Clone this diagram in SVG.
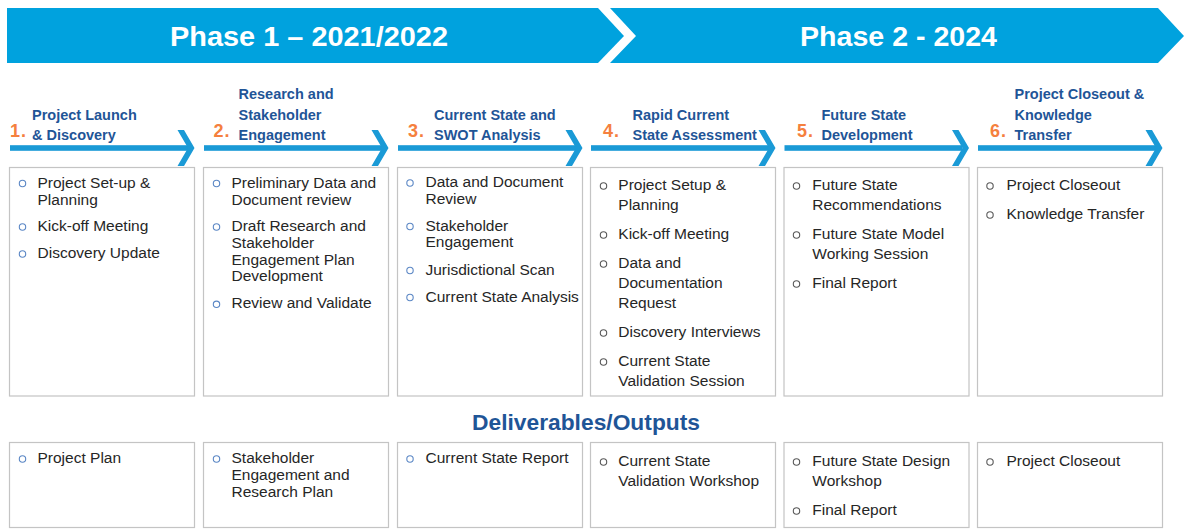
<svg xmlns="http://www.w3.org/2000/svg" xmlns:xlink="http://www.w3.org/1999/xlink" width="1184" height="529" viewBox="0 0 1184 529">
<style>
.banner{fill:#00a2de}
.ban-t{font-family:"Liberation Sans",Arial,sans-serif;font-weight:bold;font-size:28.5px;fill:#ffffff}
.num{font-family:"Liberation Sans",Arial,sans-serif;font-weight:bold;font-size:18px;letter-spacing:1px;fill:#f5803e}
.hd{font-family:"Liberation Sans",Arial,sans-serif;font-weight:bold;font-size:14.5px;fill:#1f5597}
.tx{font-family:"Liberation Sans",Arial,sans-serif;font-size:15.5px;fill:#262626}
.box{fill:#ffffff;stroke:#c4c4c4;stroke-width:1.2}
.bb{fill:none;stroke:#5b87c5;stroke-width:1.1}
.bg{fill:none;stroke:#595959;stroke-width:1.1}
.dl{font-family:"Liberation Sans",Arial,sans-serif;font-weight:bold;font-size:22px;fill:#1f5597}
.arr{fill:#1a9ad6}
</style>
<defs>
<g id="arrow">
<rect class="arr" x="0.5" y="145.2" width="178" height="5.6"/>
<polygon class="arr" points="168,130 174.5,130 185,148 174.5,166 168,166 178.5,148"/>
</g>
</defs>

<g id="banners">
<polygon class="banner" points="7,8 598,8 624,36 598,63 7,63"/>
<text class="ban-t" x="309" y="46" text-anchor="middle" textLength="278" lengthAdjust="spacingAndGlyphs">Phase 1 – 2021/2022</text>
<polygon class="banner" points="610,8 1158,8 1184,36 1158,63 610,63 636,36"/>
<text class="ban-t" x="898.5" y="46" text-anchor="middle" textLength="197" lengthAdjust="spacingAndGlyphs">Phase 2 - 2024</text>
</g>

<g id="connectors">
<use xlink:href="#arrow" href="#arrow" x="9.5"/>
<use xlink:href="#arrow" href="#arrow" x="203.5"/>
<use xlink:href="#arrow" href="#arrow" x="397.5"/>
<use xlink:href="#arrow" href="#arrow" x="590.5"/>
<use xlink:href="#arrow" href="#arrow" x="784"/>
<use xlink:href="#arrow" href="#arrow" x="977.5"/>
</g>

<g id="step1">
<text class="num" x="10" y="136.5">1.</text>
<text class="hd" x="32" y="119.5">Project Launch</text>
<text class="hd" x="32" y="139.5">&amp; Discovery</text>
<rect class="box" x="9.5" y="167.5" width="185" height="228.5"/>
<circle class="bb" cx="22.5" cy="183.5" r="3.2"/><text class="tx" x="37.5" y="187.5">Project Set-up &amp;</text>
<text class="tx" x="37.5" y="204.5">Planning</text>
<circle class="bb" cx="22.5" cy="227" r="3.2"/><text class="tx" x="37.5" y="231">Kick-off Meeting</text>
<circle class="bb" cx="22.5" cy="254" r="3.2"/><text class="tx" x="37.5" y="258">Discovery Update</text>
</g>

<g id="step2">
<text class="num" x="213.5" y="136.5">2.</text>
<text class="hd" x="238.5" y="99">Research and</text>
<text class="hd" x="238.5" y="119.5">Stakeholder</text>
<text class="hd" x="238.5" y="139.5">Engagement</text>
<rect class="box" x="203.5" y="167.5" width="185" height="228.5"/>
<circle class="bb" cx="216.5" cy="183.5" r="3.2"/><text class="tx" x="231.5" y="187.5">Preliminary Data and</text>
<text class="tx" x="231.5" y="204.5">Document review</text>
<circle class="bb" cx="216.5" cy="227" r="3.2"/><text class="tx" x="231.5" y="231">Draft Research and</text>
<text class="tx" x="231.5" y="247.8">Stakeholder</text>
<text class="tx" x="231.5" y="264.5">Engagement Plan</text>
<text class="tx" x="231.5" y="281.2">Development</text>
<circle class="bb" cx="216.5" cy="304.3" r="3.2"/><text class="tx" x="231.5" y="308.3">Review and Validate</text>
</g>

<g id="step3">
<text class="num" x="408" y="136.5">3.</text>
<text class="hd" x="434" y="119.5">Current State and</text>
<text class="hd" x="434" y="139.5">SWOT Analysis</text>
<rect class="box" x="397.5" y="167.5" width="185" height="228.5"/>
<circle class="bb" cx="410" cy="183" r="3.2"/><text class="tx" x="425.5" y="187">Data and Document</text>
<text class="tx" x="425.5" y="203.5">Review</text>
<circle class="bb" cx="410" cy="226.5" r="3.2"/><text class="tx" x="425.5" y="230.5">Stakeholder</text>
<text class="tx" x="425.5" y="247.3">Engagement</text>
<circle class="bb" cx="410" cy="270.5" r="3.2"/><text class="tx" x="425.5" y="274.5">Jurisdictional Scan</text>
<circle class="bb" cx="410" cy="297.5" r="3.2"/><text class="tx" x="425.5" y="301.5">Current State Analysis</text>
</g>

<g id="step4">
<text class="num" x="603" y="136.5">4.</text>
<text class="hd" x="632.5" y="119.5">Rapid Current</text>
<text class="hd" x="632.5" y="139.5">State Assessment</text>
<rect class="box" x="590.5" y="167.5" width="185" height="228.5"/>
<circle class="bg" cx="603.5" cy="186" r="3.2"/><text class="tx" x="618.3" y="190">Project Setup &amp;</text>
<text class="tx" x="618.3" y="210">Planning</text>
<circle class="bg" cx="603.5" cy="235" r="3.2"/><text class="tx" x="618.3" y="239">Kick-off Meeting</text>
<circle class="bg" cx="603.5" cy="264" r="3.2"/><text class="tx" x="618.3" y="268">Data and</text>
<text class="tx" x="618.3" y="288">Documentation</text>
<text class="tx" x="618.3" y="308">Request</text>
<circle class="bg" cx="603.5" cy="333" r="3.2"/><text class="tx" x="618.3" y="337">Discovery Interviews</text>
<circle class="bg" cx="603.5" cy="362" r="3.2"/><text class="tx" x="618.3" y="366">Current State</text>
<text class="tx" x="618.3" y="386">Validation Session</text>
</g>

<g id="step5">
<text class="num" x="797" y="136.5">5.</text>
<text class="hd" x="821.5" y="119.5">Future State</text>
<text class="hd" x="821.5" y="139.5">Development</text>
<rect class="box" x="784" y="167.5" width="185" height="228.5"/>
<circle class="bg" cx="796.5" cy="186" r="3.2"/><text class="tx" x="812.3" y="190">Future State</text>
<text class="tx" x="812.3" y="210">Recommendations</text>
<circle class="bg" cx="796.5" cy="235" r="3.2"/><text class="tx" x="812.3" y="239">Future State Model</text>
<text class="tx" x="812.3" y="259">Working Session</text>
<circle class="bg" cx="796.5" cy="284" r="3.2"/><text class="tx" x="812.3" y="288">Final Report</text>
</g>

<g id="step6">
<text class="num" x="990" y="136.5">6.</text>
<text class="hd" x="1014.5" y="99">Project Closeout &amp;</text>
<text class="hd" x="1014.5" y="119.5">Knowledge</text>
<text class="hd" x="1014.5" y="139.5">Transfer</text>
<rect class="box" x="977.5" y="167.5" width="185" height="228.5"/>
<circle class="bg" cx="990" cy="186" r="3.2"/><text class="tx" x="1006.5" y="190">Project Closeout</text>
<circle class="bg" cx="990" cy="215" r="3.2"/><text class="tx" x="1006.5" y="219">Knowledge Transfer</text>
</g>

<g id="deliverables">
<text class="dl" x="586" y="430" text-anchor="middle" textLength="228" lengthAdjust="spacingAndGlyphs">Deliverables/Outputs</text>
</g>

<g id="out1">
<rect class="box" x="9.5" y="442.5" width="185" height="85"/>
<circle class="bb" cx="22.5" cy="459" r="3.2"/><text class="tx" x="37.5" y="463">Project Plan</text>
</g>
<g id="out2">
<rect class="box" x="203.5" y="442.5" width="185" height="85"/>
<circle class="bb" cx="216.5" cy="459" r="3.2"/><text class="tx" x="231.5" y="463">Stakeholder</text>
<text class="tx" x="231.5" y="480">Engagement and</text>
<text class="tx" x="231.5" y="497">Research Plan</text>
</g>
<g id="out3">
<rect class="box" x="397.5" y="442.5" width="185" height="85"/>
<circle class="bb" cx="410" cy="459" r="3.2"/><text class="tx" x="425.5" y="463">Current State Report</text>
</g>
<g id="out4">
<rect class="box" x="590.5" y="442.5" width="185" height="85"/>
<circle class="bg" cx="603.5" cy="462" r="3.2"/><text class="tx" x="618.3" y="466">Current State</text>
<text class="tx" x="618.3" y="486">Validation Workshop</text>
</g>
<g id="out5">
<rect class="box" x="784" y="442.5" width="185" height="85"/>
<circle class="bg" cx="796.5" cy="462" r="3.2"/><text class="tx" x="812.3" y="466">Future State Design</text>
<text class="tx" x="812.3" y="486">Workshop</text>
<circle class="bg" cx="796.5" cy="511" r="3.2"/><text class="tx" x="812.3" y="515">Final Report</text>
</g>
<g id="out6">
<rect class="box" x="977.5" y="442.5" width="185" height="85"/>
<circle class="bg" cx="990" cy="462" r="3.2"/><text class="tx" x="1006.5" y="466">Project Closeout</text>
</g>
</svg>
